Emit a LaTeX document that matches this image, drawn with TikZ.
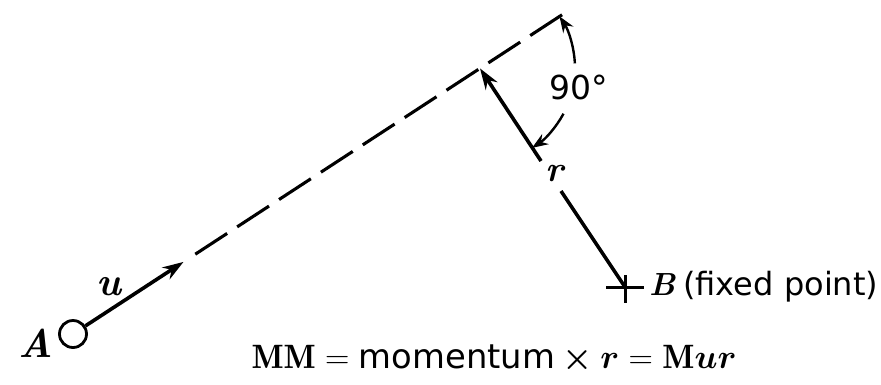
\documentclass[tikz,border=0pt]{standalone}
\usepackage{fix-cm}
\usepackage{fontspec}
\usepackage{amsmath}
\usepackage{bm}
\newfontfamily\sansf{DejaVu Sans}
\usetikzlibrary{arrows.meta}
\begin{document}
\begin{tikzpicture}[x=1pt,y=-1pt,
  mainline/.style={line width=3.6pt},
  dashline/.style={line width=3.1pt, dash pattern=on 38pt off 12pt},
  anglearc/.style={line width=2.4pt, -{Stealth[length=16pt,width=12pt]}},
  bighead/.style={-{Stealth[length=21pt,width=14pt]}},
  lbl/.style={inner sep=0pt, font=\fontsize{40}{40}\selectfont}
]
\useasboundingbox (0,0) rectangle (881,384);

% points
\coordinate (Vtip) at (183.5,261.9);
\coordinate (Dstart) at (195.3,254.2);
\coordinate (T) at (571.2,8.8);
\coordinate (F) at (480,68.4);
\coordinate (B) at (625,287);
\coordinate (P1) at (541,161);
\coordinate (P2) at (561,191);

% particle A
\node[circle, draw, line width=2.8pt, minimum size=27pt, inner sep=0pt] (Acirc) at (73,334) {};

% velocity arrow
\draw[mainline, bighead] (Acirc) -- (Vtip);

% dashed line of motion
\draw[dashline] (Dstart) -- (T);

% perpendicular r
\draw[mainline, bighead] (P1) -- (F);
\draw[mainline] (P2) -- (B);

% fixed point cross
\draw[line width=3pt] ([xshift=-19pt]B) -- ([xshift=19pt]B);
\draw[line width=3pt] ([yshift=12pt]B) -- ([yshift=-16pt]B);

% right angle arcs
\draw[anglearc] (F) ++(-3:95) arc[start angle=-3, end angle=-33.2, radius=95];
\draw[anglearc] (F) ++(28.5:95) arc[start angle=28.5, end angle=56.8, radius=95];

% labels
\node[lbl] (Alab) at (36,343) {\bfseries\itshape A};
\node[lbl] (ulab) at (109,287) {\bfseries\itshape u};
\node[lbl, font=\fontsize{36}{36}\selectfont] (rlab) at (555,174) {\bfseries\itshape r};
\node[lbl] (deg) at (579,87) {\fontsize{33}{33}\selectfont\sansf 90°};
\node[lbl, anchor=west] (Blab) at (649,287) {\resizebox{229pt}{!}{{\bfseries\itshape B}\hspace{10pt}{\sansf\mdseries\upshape (fixed point)}}};
\node[lbl] (formula) at (494,359) {\resizebox{485pt}{!}{$\mathbf{MM} = \text{\sansf momentum} \boldsymbol{\times} \boldsymbol{r} = \mathbf{M}\boldsymbol{ur}$}};
\end{tikzpicture}
\end{document}
